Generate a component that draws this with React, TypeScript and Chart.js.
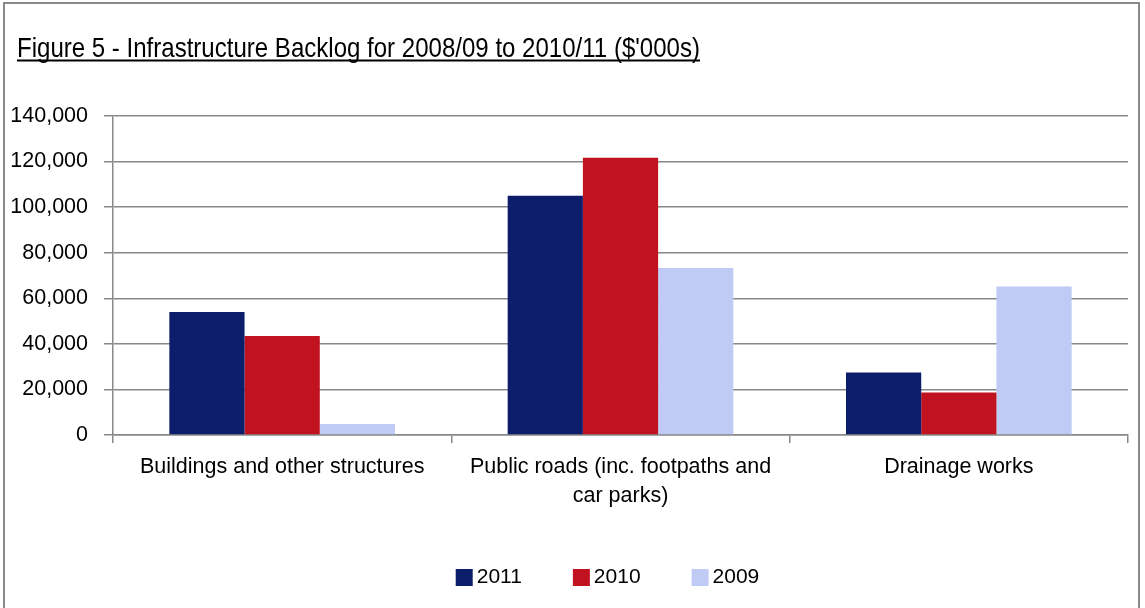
import React, { useEffect, useRef } from "react";
import { Chart, registerables } from "chart.js";

Chart.register(...registerables);

const categories: (string | string[])[] = [
  "Buildings and other structures",
  ["Public roads (inc. footpaths and", "car parks)"],
  "Drainage works",
];
const seriesNames = ["2011", "2010", "2009"];
const values2011 = [54000, 105000, 27400];
const values2010 = [43500, 121700, 18700];
const values2009 = [4800, 73300, 65200];
const seriesColors = ["#0c1e6b", "#c1121f", "#bfcaf5"];
const yTicks = [0, 20000, 40000, 60000, 80000, 100000, 120000, 140000];
const titleText = "Figure 5 - Infrastructure Backlog for 2008/09 to 2010/11 ($'000s)";

const FONT = '"Liberation Sans", Arial, sans-serif';

const framePlugin = {
  id: "frame",
  beforeDraw(chart: any) {
    const ctx = chart.ctx;
    ctx.save();
    ctx.fillStyle = "#ffffff";
    ctx.fillRect(0, 0, chart.width, chart.height);
    ctx.strokeStyle = "#8a8a8a";
    ctx.lineWidth = 2;
    ctx.strokeRect(4, 3, 1135, 620);
    ctx.restore();
  },
  afterDraw(chart: any) {
    const ctx = chart.ctx;
    ctx.save();
    // title (condensed, like Arial Narrow)
    ctx.font = `28px ${FONT}`;
    ctx.fillStyle = "#000";
    ctx.textBaseline = "alphabetic";
    ctx.textAlign = "left";
    const natural = ctx.measureText(titleText).width;
    const targetW = 683;
    const sx = targetW / natural;
    ctx.save();
    ctx.translate(17, 0);
    ctx.scale(sx, 1);
    ctx.fillText(titleText, 0, 57);
    ctx.restore();
    ctx.fillRect(17, 59.5, targetW, 2);

    // legend
    ctx.font = `21px ${FONT}`;
    const ds = chart.data.datasets;
    const box = 17;
    const gap = 4;
    const sep = 51;
    const widths = ds.map((d: any) => ctx.measureText(d.label).width);
    let total = 0;
    widths.forEach((w: number, i: number) => {
      total += box + gap + w + (i < widths.length - 1 ? sep : 0);
    });
    const cx = (chart.chartArea.left + chart.chartArea.right) / 2 - 13;
    let x = cx - total / 2;
    const yMid = 577.5;
    ds.forEach((d: any, i: number) => {
      ctx.fillStyle = d.backgroundColor;
      ctx.fillRect(x, yMid - box / 2, box, box);
      ctx.fillStyle = "#000";
      ctx.textBaseline = "middle";
      ctx.fillText(d.label, x + box + gap, yMid);
      x += box + gap + widths[i] + sep;
    });
    ctx.restore();
  },
};

export default function App() {
  const canvasRef = useRef<HTMLCanvasElement | null>(null);

  useEffect(() => {
    if (!canvasRef.current) return;
    Chart.defaults.font.family = FONT;
    const chart = new Chart(canvasRef.current, {
      type: "bar",
      data: {
        labels: categories,
        datasets: [values2011, values2010, values2009].map((vals, i) => ({
          label: seriesNames[i],
          data: vals,
          backgroundColor: seriesColors[i],
          borderWidth: 0,
          categoryPercentage: 0.667,
          barPercentage: 1.0,
        })),
      },
      options: {
        animation: false,
        responsive: false,
        maintainAspectRatio: false,
        layout: { padding: { left: 0, right: 17, top: 116, bottom: 0 } },
        plugins: {
          legend: { display: false },
          title: { display: false },
          tooltip: { enabled: false },
        },
        scales: {
          x: {
            afterFit: (s: any) => {
              s.height = 173;
            },
            grid: {
              drawOnChartArea: false,
              offset: true,
              color: "#888888",
              lineWidth: 1.5,
              tickLength: 8,
            },
            border: { display: true, color: "#888888", width: 1.5 },
            ticks: {
              color: "#000",
              padding: 9,
              maxRotation: 0,
              autoSkip: false,
              font: { size: 21.5, lineHeight: 1.37 },
            },
          },
          y: {
            min: 0,
            max: 140000,
            afterFit: (s: any) => {
              s.width = 113;
            },
            afterBuildTicks: (s: any) => {
              s.ticks = yTicks.map((v) => ({ value: v }));
            },
            grid: {
              color: "#888888",
              lineWidth: 1.5,
              tickLength: 9,
            },
            border: { display: true, color: "#888888", width: 1.5 },
            ticks: {
              color: "#000",
              padding: 16,
              font: { size: 21.5 },
              callback: (v: any) => Number(v).toLocaleString("en-US"),
            },
          },
        },
      },
      plugins: [framePlugin],
    });
    return () => chart.destroy();
  }, []);

  return (
    <div style={{ position: "absolute", left: 0, top: 0, width: 1145, height: 608 }}>
      <canvas ref={canvasRef} width={1145} height={608} style={{ display: "block" }} />
    </div>
  );
}
